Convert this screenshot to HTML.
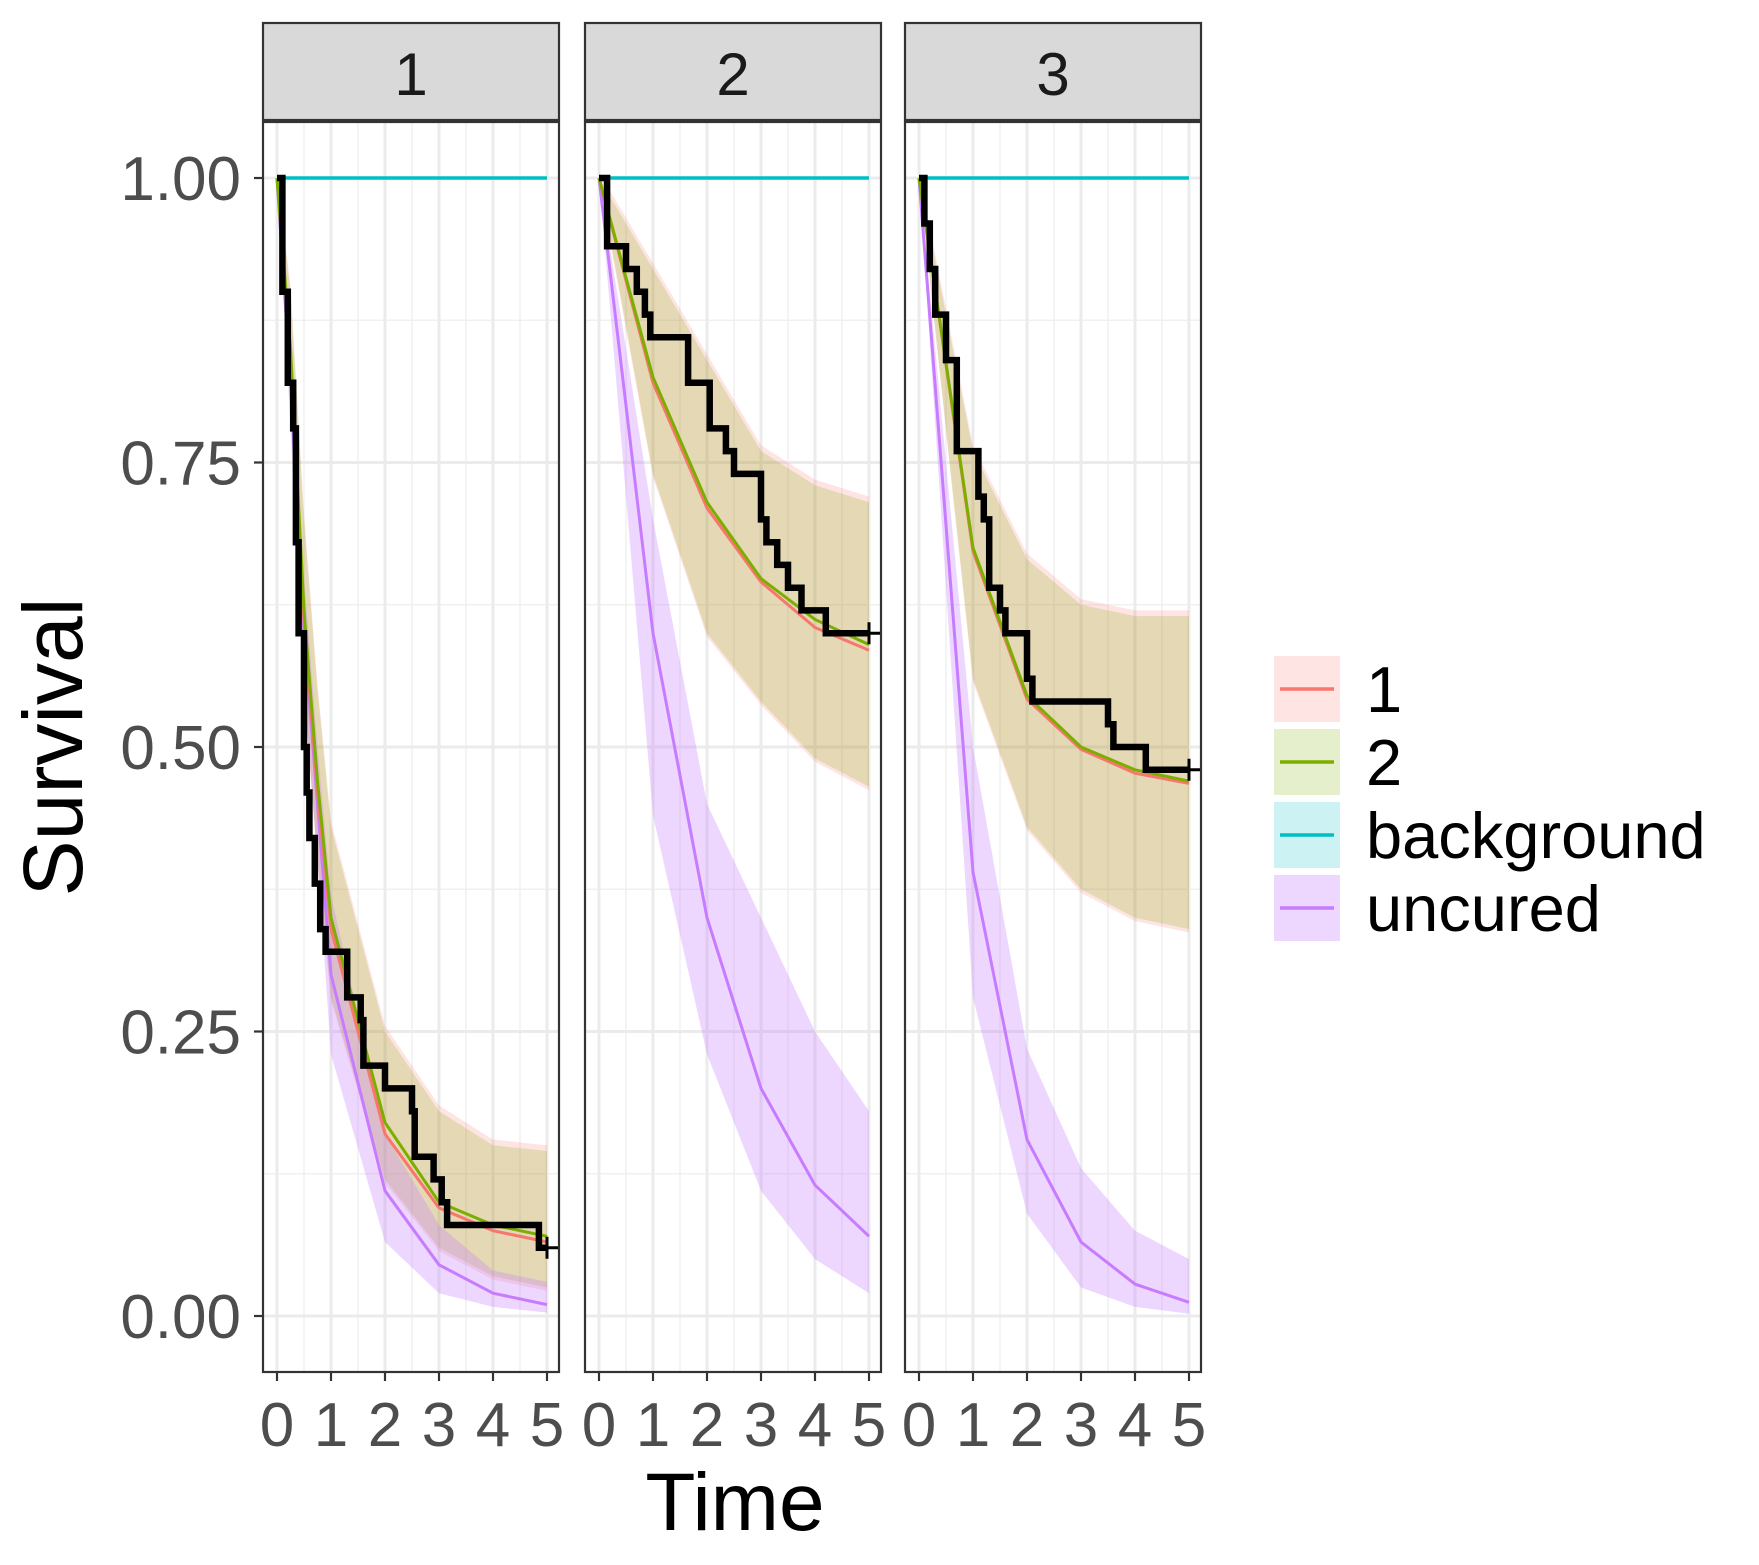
<!DOCTYPE html>
<html><head><meta charset="utf-8"><style>
body{margin:0;background:#fff}
svg{display:block;font-family:"Liberation Sans",sans-serif}
</style></head><body>
<svg id="chart" width="1759" height="1565" viewBox="0 0 1759 1565" xmlns="http://www.w3.org/2000/svg">
<text x="0" y="0" transform="translate(82,747) rotate(-90)" text-anchor="middle" font-size="84" fill="#000">Survival</text>
<text x="735" y="1530" text-anchor="middle" font-size="82" fill="#000">Time</text>
<g id="legend"></g>
</svg>
<script>
const panelNames = ['1','2','3'];
const fineTimes = [0,0.25,0.5,0.75,1,2,3,4,5];
const coarseTimes = [0,1,2,3,4,5];
// panel 1
const p1m1 = [1,0.84,0.61,0.46,0.34,0.16,0.095,0.075,0.065];
const p1m2 = [1,0.85,0.62,0.47,0.35,0.17,0.10,0.08,0.07];
const p1Upper = [1,0.9,0.7,0.55,0.43,0.25,0.18,0.15,0.145];
const p1Lower = [1,0.8,0.55,0.4,0.28,0.12,0.06,0.035,0.025];
const p1Unc = [1,0.82,0.6,0.45,0.3,0.11,0.045,0.02,0.01];
const p1UncUp = [1,0.85,0.65,0.5,0.37,0.16,0.08,0.04,0.03];
const p1UncLo = [1,0.78,0.55,0.4,0.23,0.065,0.02,0.008,0.003];
// panel 2
const p2m1 = [1,0.82,0.71,0.645,0.605,0.585];
const p2m2 = [1,0.825,0.715,0.648,0.612,0.59];
const p2Upper = [1,0.92,0.84,0.76,0.73,0.715];
const p2Lower = [1,0.74,0.6,0.54,0.49,0.465];
const p2Unc = [1,0.6,0.35,0.2,0.115,0.07];
const p2UncUp = [1,0.7,0.45,0.35,0.25,0.18];
const p2UncLo = [1,0.44,0.23,0.11,0.05,0.02];
// panel 3
const p3m1 = [1,0.672,0.542,0.498,0.477,0.468];
const p3m2 = [1,0.675,0.545,0.5,0.48,0.47];
const p3Upper = [1,0.76,0.665,0.625,0.615,0.615];
const p3Lower = [1,0.56,0.43,0.375,0.35,0.34];
const p3Unc = [1,0.39,0.155,0.065,0.028,0.012];
const p3UncUp = [1,0.5,0.235,0.13,0.075,0.05];
const p3UncLo = [1,0.28,0.09,0.025,0.008,0.002];
// Kaplan-Meier steps
const km1Times = [0,0.1,0.2,0.3,0.35,0.4,0.5,0.55,0.6,0.7,0.8,0.9,1.3,1.55,1.6,2.0,2.5,2.55,2.9,3.05,3.15,4.85,5.0];
const km1Surv = [1,0.9,0.82,0.78,0.68,0.6,0.5,0.46,0.42,0.38,0.34,0.32,0.28,0.26,0.22,0.20,0.18,0.14,0.12,0.10,0.08,0.06,0.06];
const km2Times = [0,0.15,0.5,0.7,0.85,0.95,1.65,2.05,2.35,2.5,3.0,3.1,3.3,3.5,3.75,4.2,5.0];
const km2Surv = [1,0.94,0.92,0.90,0.88,0.86,0.82,0.78,0.76,0.74,0.70,0.68,0.66,0.64,0.62,0.60,0.60];
const km3Times = [0,0.1,0.2,0.3,0.5,0.7,1.1,1.2,1.3,1.5,1.6,2.0,2.1,3.5,3.6,4.2,5.0];
const km3Surv = [1,0.96,0.92,0.88,0.84,0.76,0.72,0.70,0.64,0.62,0.60,0.56,0.54,0.52,0.50,0.48,0.48];
const xTicks = ['0','1','2','3','4','5'];
const yTicks = ['0.00','0.25','0.50','0.75','1.00'];
const legendLabels = ['1','2','background','uncured'];

const colors = {m1:'#F8766D', m2:'#7CAE00', bg:'#00BFC4', unc:'#C77CFF'};
const NS='http://www.w3.org/2000/svg';
const svg=document.getElementById('chart');
const panelLefts=[263,585,905], panelW=296, panelTop=122, panelBot=1372, stripTop=23;
function xs(i,t){return panelLefts[i]+14+t*54;}
function ys(v){return 1316-v*1138;}
function mk(tag,attrs,parent){const e=document.createElementNS(NS,tag);for(const k in attrs)e.setAttribute(k,attrs[k]);(parent||svg).appendChild(e);return e;}
const panels=[
 {times:fineTimes,m1:p1m1,m2:p1m2,up:p1Upper,lo:p1Lower,unc:p1Unc,uu:p1UncUp,ul:p1UncLo,kt:km1Times,ks:km1Surv},
 {times:coarseTimes,m1:p2m1,m2:p2m2,up:p2Upper,lo:p2Lower,unc:p2Unc,uu:p2UncUp,ul:p2UncLo,kt:km2Times,ks:km2Surv},
 {times:coarseTimes,m1:p3m1,m2:p3m2,up:p3Upper,lo:p3Lower,unc:p3Unc,uu:p3UncUp,ul:p3UncLo,kt:km3Times,ks:km3Surv}];
function pts(i,ts,vs){return ts.map((t,k)=>xs(i,t).toFixed(1)+','+ys(vs[k]).toFixed(1)).join(' ');}
function band(i,ts,up,lo){return pts(i,ts,up)+' '+pts(i,ts.slice().reverse(),lo.slice().reverse());}
panels.forEach((p,i)=>{
  const L=panelLefts[i];
  const g=mk('g',{});
  
  
  mk('rect',{x:L,y:panelTop,width:panelW,height:panelBot-panelTop,fill:'#fff'},g);
  for(let t=0.5;t<5;t+=1) mk('line',{x1:xs(i,t),x2:xs(i,t),y1:panelTop,y2:panelBot,stroke:'#f0f0f0','stroke-width':1.5},g);
  for(let v=0.125;v<1;v+=0.25) mk('line',{x1:L,x2:L+panelW,y1:ys(v),y2:ys(v),stroke:'#f0f0f0','stroke-width':1.5},g);
  xTicks.forEach((lab,k)=>mk('line',{x1:xs(i,+lab),x2:xs(i,+lab),y1:panelTop,y2:panelBot,stroke:'#ebebeb','stroke-width':3},g));
  yTicks.forEach(lab=>mk('line',{x1:L,x2:L+panelW,y1:ys(+lab),y2:ys(+lab),stroke:'#ebebeb','stroke-width':3},g));
  const b1=mk('polygon',{points:band(i,p.times,p.up.map(v=>v+0.005),p.lo.map(v=>v-0.003)),fill:colors.m1,'fill-opacity':0.2},g);
  
  const b2=mk('polygon',{points:band(i,p.times,p.up,p.lo),fill:colors.m2,'fill-opacity':0.2},g);
  
  const bu=mk('polygon',{points:band(i,p.times,p.uu,p.ul),fill:colors.unc,'fill-opacity':0.3},g);
  
  const bgl=mk('line',{x1:xs(i,0),x2:xs(i,5),y1:ys(1),y2:ys(1),stroke:colors.bg,'stroke-width':3.5},g);
  
  const lu=mk('polyline',{points:pts(i,p.times,p.unc),fill:'none',stroke:colors.unc,'stroke-width':3},g);
  
  const l1=mk('polyline',{points:pts(i,p.times,p.m1),fill:'none',stroke:colors.m1,'stroke-width':3},g);
  
  const l2=mk('polyline',{points:pts(i,p.times,p.m2),fill:'none',stroke:colors.m2,'stroke-width':3},g);
  
  let d='M'+xs(i,p.kt[0])+','+ys(p.ks[0]);
  for(let k=1;k<p.kt.length;k++){d+=' H'+xs(i,p.kt[k]).toFixed(1)+' V'+ys(p.ks[k]).toFixed(1);}
  const km=mk('path',{d:d,fill:'none',stroke:'#000','stroke-width':6.5},g);
  
  const last=p.kt.length-1, cx=xs(i,p.kt[last]), cy=ys(p.ks[last]);
  mk('path',{d:`M${cx-11},${cy} H${cx+11} M${cx},${cy-11} V${cy+11}`,stroke:'#000','stroke-width':3},g);
  mk('rect',{x:L,y:panelTop,width:panelW,height:panelBot-panelTop,fill:'none',stroke:'#333','stroke-width':2.2},g);
  const st=mk('rect',{x:L,y:stripTop,width:panelW,height:120-stripTop,fill:'#d9d9d9',stroke:'#333','stroke-width':2.2},g);
  
  const stt=mk('text',{x:L+panelW/2,y:95,'text-anchor':'middle','font-size':60,fill:'#1a1a1a'},g);
  stt.textContent=panelNames[i];
  xTicks.forEach(lab=>{
    mk('line',{x1:xs(i,+lab),x2:xs(i,+lab),y1:panelBot,y2:panelBot+9,stroke:'#333','stroke-width':2.2},g);
    const t=mk('text',{x:xs(i,+lab),y:1446,'text-anchor':'middle','font-size':62,fill:'#4d4d4d'},g);
    
    t.textContent=lab;
  });
});
yTicks.forEach(lab=>{
  mk('line',{x1:254,x2:263,y1:ys(+lab),y2:ys(+lab),stroke:'#333','stroke-width':2.2});
  const t=mk('text',{x:241,y:ys(+lab)+22,'text-anchor':'end','font-size':62,fill:'#4d4d4d'});
  
  t.textContent=lab;
});
const lg=document.getElementById('legend');
const lcol=[colors.m1,colors.m2,colors.bg,colors.unc];
legendLabels.forEach((lab,k)=>{
  const cy=689+k*73;
  const e=mk('g',{},lg);
  
  
  mk('rect',{x:1274,y:cy-33,width:66,height:66,fill:lcol[k],'fill-opacity':k==3?0.3:0.2},e);
  mk('line',{x1:1280,x2:1334,y1:cy,y2:cy,stroke:lcol[k],'stroke-width':3.5},e);
  const t=mk('text',{x:1366,y:cy+23,'font-size':65,fill:'#000'},e);
  t.textContent=lab;
});
</script>
</body></html>
